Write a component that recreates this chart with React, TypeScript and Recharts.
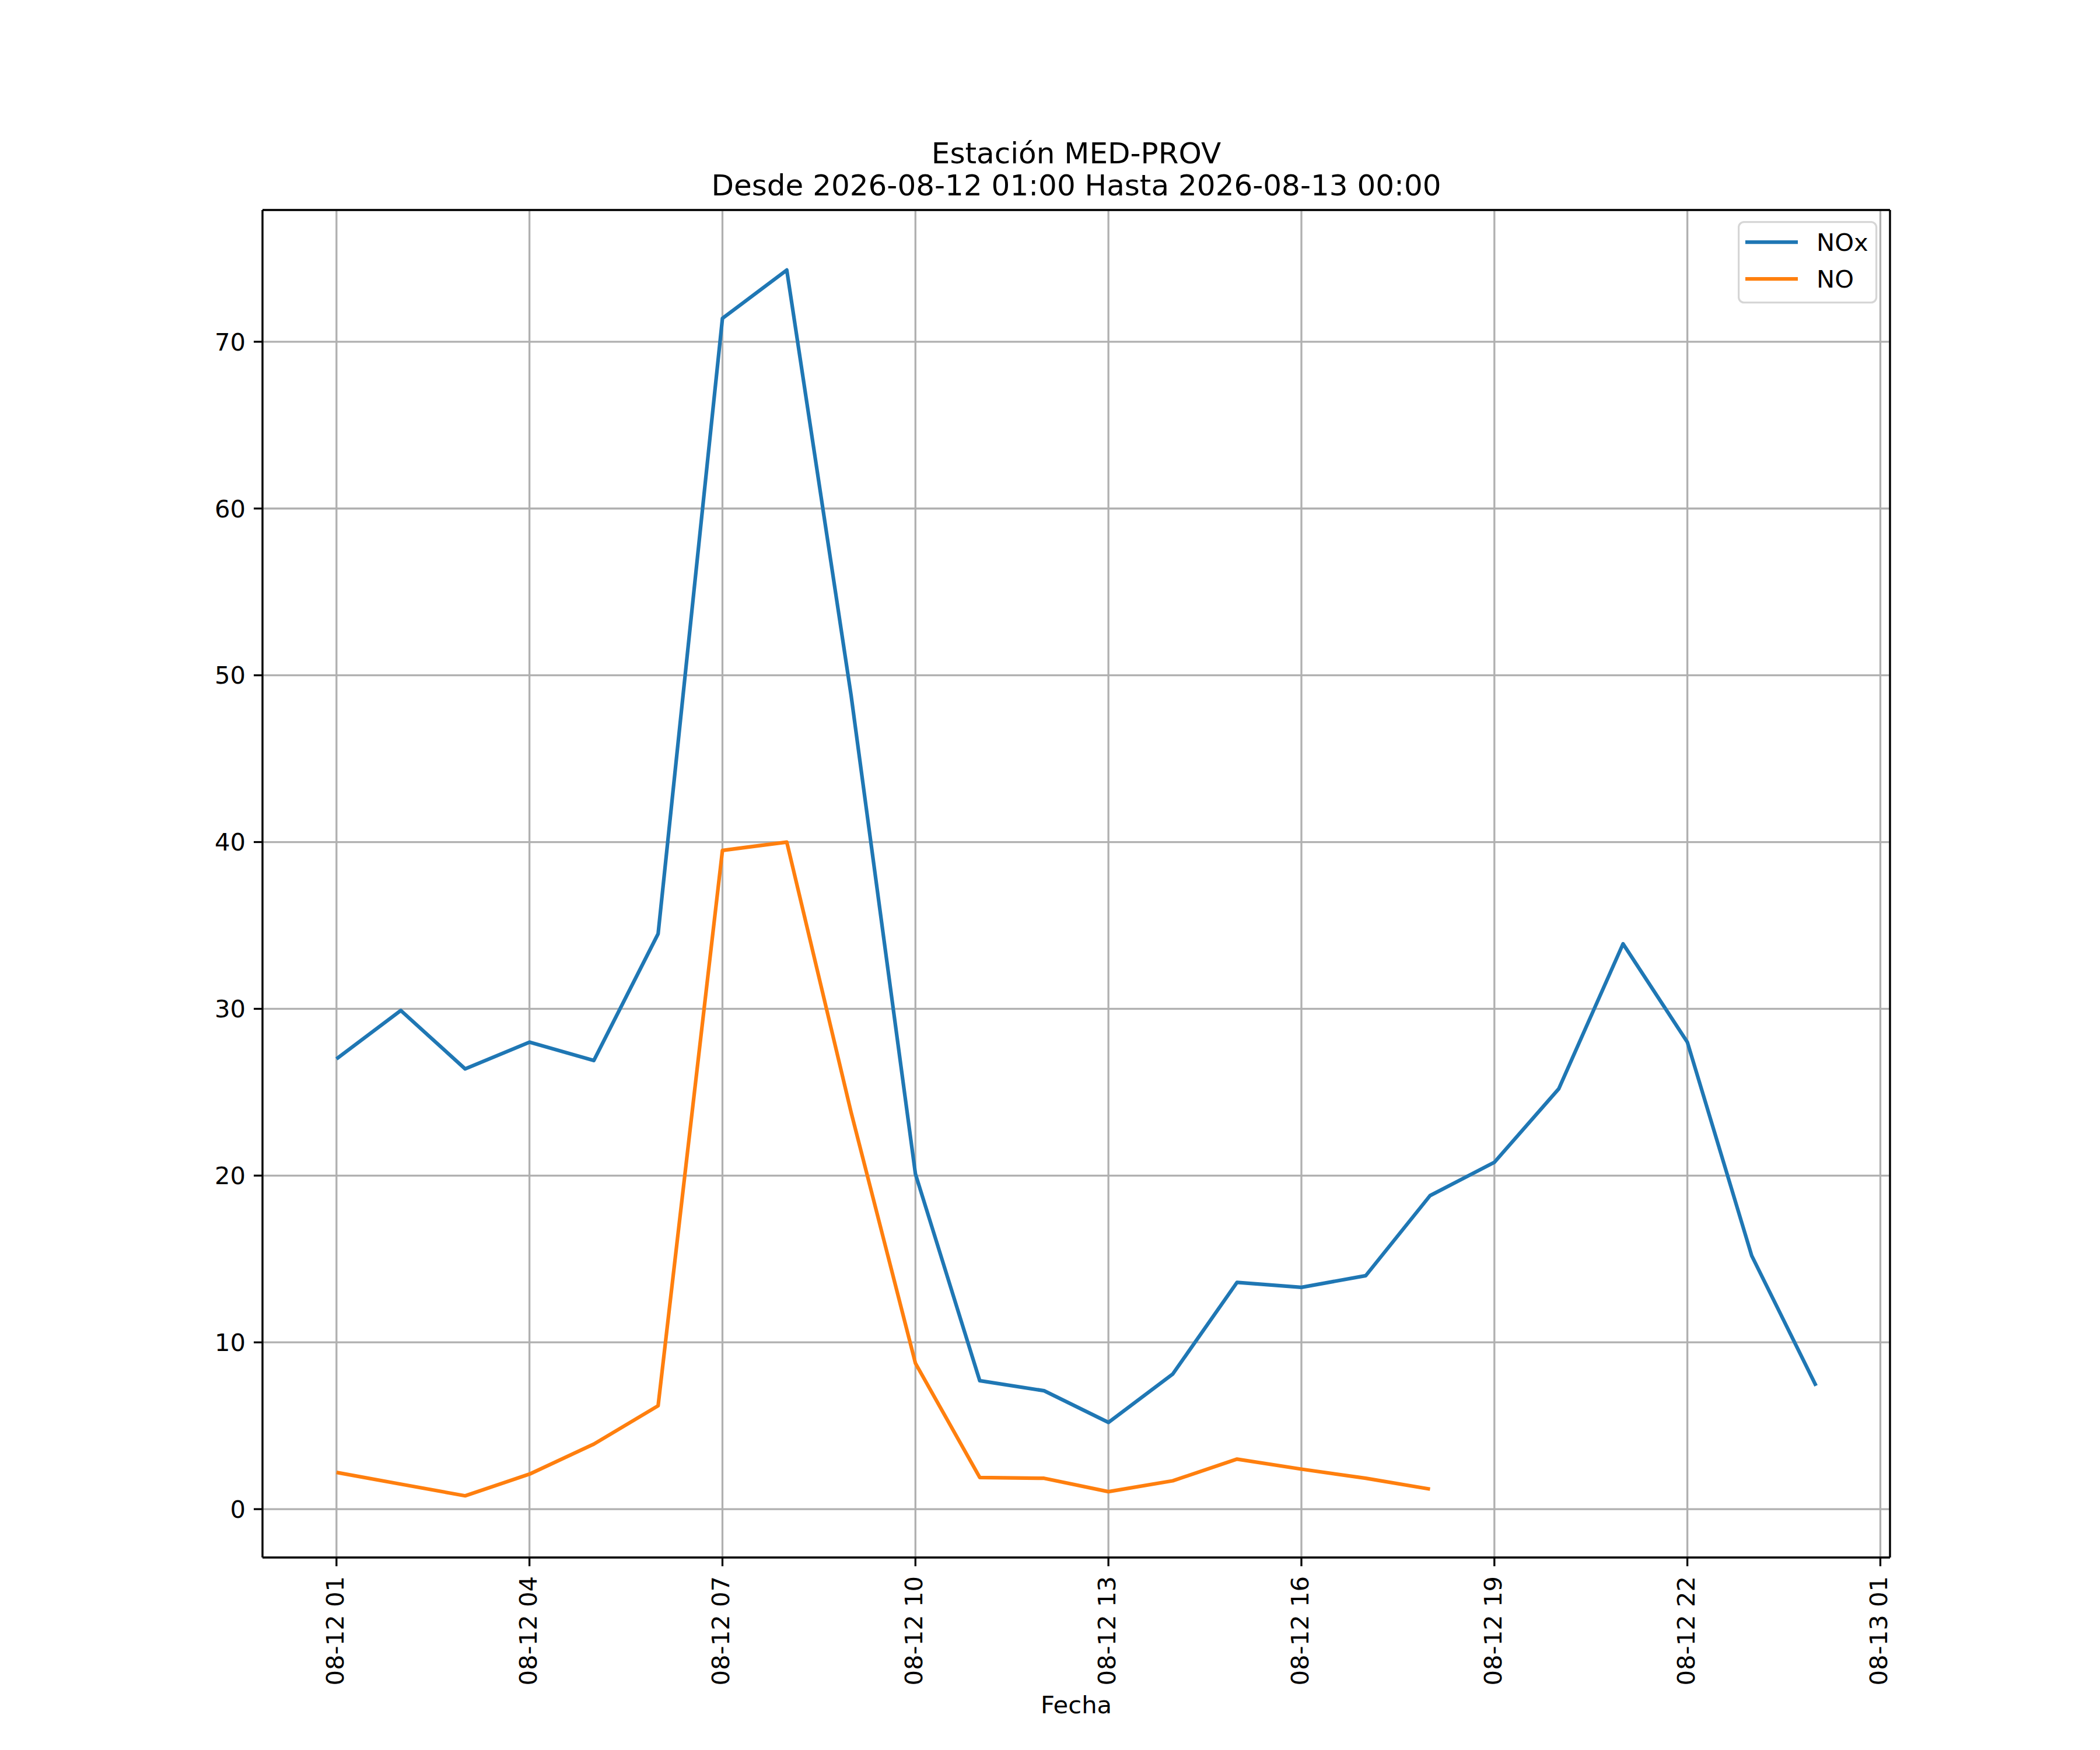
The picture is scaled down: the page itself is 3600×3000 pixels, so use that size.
import { LineChart, Line, XAxis, YAxis, CartesianGrid, Legend, ReferenceLine } from 'recharts';

// horas desde 2026-08-12 00:00 (1 = 01:00 ... 24 = 08-13 00:00)
const HOURS = [1, 2, 3, 4, 5, 6, 7, 8, 9, 10, 11, 12, 13, 14, 15, 16, 17, 18, 19, 20, 21, 22, 23, 24];

const NOX = [
  27.0, 29.9, 26.4, 28.0, 26.9, 34.5, 71.4, 74.3, 48.8, 20.1, 7.7, 7.1,
  5.2, 8.1, 13.6, 13.3, 14.0, 18.8, 20.8, 25.2, 33.9, 28.0, 15.2, 7.4,
];

const NO = [
  2.2, 1.5, 0.8, 2.1, 3.9, 6.2, 39.5, 40.0, 23.8, 8.75, 1.9, 1.85,
  1.05, 1.7, 3.0, 2.4, 1.85, 1.2,
];

const SERIES_NAMES = ['NOx', 'NO'];

const X_TICKS = [1, 4, 7, 10, 13, 16, 19, 22, 25];
const X_TICK_LABELS = [
  '08-12 01', '08-12 04', '08-12 07', '08-12 10', '08-12 13',
  '08-12 16', '08-12 19', '08-12 22', '08-13 01',
];
const Y_TICKS = [0, 10, 20, 30, 40, 50, 60, 70];

const TITLE = 'Estación MED-PROV';
const SUBTITLE = 'Desde 2026-08-12 01:00 Hasta 2026-08-13 00:00';

const data = HOURS.map((h, i) => ({
  hour: h,
  nox: NOX[i] ?? null,
  no: NO[i] ?? null,
}));

const FONT = '"DejaVu Sans", sans-serif';
const FS = 41.7;
const LW = 3.3;
const X_DOMAIN = [-0.15, 25.15];
const Y_DOMAIN = [-2.9, 77.9];

const XTick = ({ x, y, payload }: any) => {
  const idx = X_TICKS.indexOf(payload.value);
  return (
    <text
      transform={`translate(${x},${y}) rotate(-90)`}
      textAnchor="end"
      dy={12}
      fontSize={FS}
      fontFamily={FONT}
      fill="#000"
    >
      {X_TICK_LABELS[idx]}
    </text>
  );
};

const renderLegend = ({ payload }: any) => {
  const items = [...(payload || [])].sort(
    (a: any, b: any) => SERIES_NAMES.indexOf(a.value) - SERIES_NAMES.indexOf(b.value),
  );
  return (
    <svg width={240} height={142} style={{ display: 'block' }}>
      <rect x={1.6} y={1.6} width={236} height={138} rx={9} ry={9} fill="rgba(255,255,255,0.8)" stroke="#d6d6d6" strokeWidth={LW} />
      {items.map((entry: any, i: number) => (
        <g key={`leg-${i}`}>
          <line x1={13} x2={103} y1={36 + i * 63} y2={36 + i * 63} stroke={entry.color} strokeWidth={6.25} />
          <text x={135} y={51 + i * 63} fontSize={FS} fontFamily={FONT} fill="#000">
            {entry.value}
          </text>
        </g>
      ))}
    </svg>
  );
};

export default function App() {
  return (
    <div style={{ position: 'absolute', left: 0, top: 0, width: 3600, height: 3000, background: '#fff' }}>
      <LineChart
        width={3600}
        height={3000}
        data={data}
        margin={{ top: 360, right: 360, bottom: 30, left: 360 }}
      >
        <CartesianGrid stroke="#b0b0b0" strokeWidth={LW} />
        <XAxis
          dataKey="hour"
          type="number"
          domain={X_DOMAIN}
          allowDataOverflow
          ticks={X_TICKS}
          interval={0}
          height={300}
          tick={<XTick />}
          tickSize={15}
          tickMargin={17}
          tickLine={{ stroke: '#000', strokeWidth: LW }}
          axisLine={{ stroke: '#000', strokeWidth: LW }}
          label={{ value: 'Fecha', position: 'insideBottom', offset: 33, fontSize: FS, fontFamily: FONT, fill: '#000' }}
        />
        <YAxis
          type="number"
          domain={Y_DOMAIN}
          allowDataOverflow
          ticks={Y_TICKS}
          interval={0}
          width={90}
          tickSize={15}
          tickMargin={14}
          tick={{ fontSize: FS, fontFamily: FONT, fill: '#000' }}
          tickLine={{ stroke: '#000', strokeWidth: LW }}
          axisLine={{ stroke: '#000', strokeWidth: LW }}
        />
        <ReferenceLine y={Y_DOMAIN[1]} stroke="#000" strokeWidth={LW} />
        <ReferenceLine x={X_DOMAIN[1]} stroke="#000" strokeWidth={LW} />
        <Line
          type="linear"
          dataKey="nox"
          name={SERIES_NAMES[0]}
          stroke="#1f77b4"
          strokeWidth={6.25}
          strokeLinejoin="round"
          dot={false}
          activeDot={false}
          isAnimationActive={false}
        />
        <Line
          type="linear"
          dataKey="no"
          name={SERIES_NAMES[1]}
          stroke="#ff7f0e"
          strokeWidth={6.25}
          strokeLinejoin="round"
          dot={false}
          activeDot={false}
          isAnimationActive={false}
        />
        <Legend
          layout="vertical"
          align="center"
          verticalAlign="middle"
          content={renderLegend}
          wrapperStyle={{ position: 'absolute', left: 2979, top: 379, width: 240, height: 142 }}
        />
        <text x={1845} y={280} textAnchor="middle" fontSize={50} fontFamily={FONT} fill="#000">
          {TITLE}
        </text>
        <text x={1845} y={335} textAnchor="middle" fontSize={50} fontFamily={FONT} fill="#000">
          {SUBTITLE}
        </text>
      </LineChart>
    </div>
  );
}
